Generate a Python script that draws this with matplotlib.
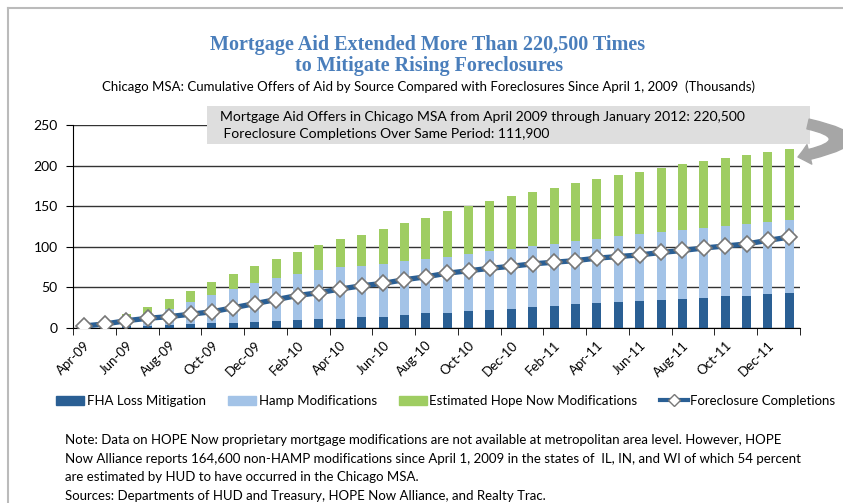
import numpy as np
import matplotlib
matplotlib.use('Agg')
from matplotlib import pyplot as plt
from matplotlib.patches import Patch, Rectangle, FancyArrowPatch
from matplotlib.lines import Line2D
from matplotlib.path import Path

# months Apr-09 .. Jan-12 (34 bars), values in thousands
months = ['Apr-09', 'May-09', 'Jun-09', 'Jul-09', 'Aug-09', 'Sep-09', 'Oct-09', 'Nov-09',
          'Dec-09', 'Jan-10', 'Feb-10', 'Mar-10', 'Apr-10', 'May-10', 'Jun-10', 'Jul-10',
          'Aug-10', 'Sep-10', 'Oct-10', 'Nov-10', 'Dec-10', 'Jan-11', 'Feb-11', 'Mar-11',
          'Apr-11', 'May-11', 'Jun-11', 'Jul-11', 'Aug-11', 'Sep-11', 'Oct-11', 'Nov-11',
          'Dec-11', 'Jan-12']
fha = [0, 0, 2, 3, 4, 5, 6, 6.5, 8, 9, 10, 11, 11.5, 13, 14, 16, 18, 19, 20.5, 22.5,
       23.5, 25.5, 27.5, 29, 31, 31.5, 33, 34, 36, 37, 39, 40, 41.5, 43]
hamp = [0, 0, 9, 14, 20, 27, 35, 41, 47, 52, 56.5, 60, 63.5, 63, 65, 66, 67, 69, 70.5, 72.5,
        74, 75, 76.5, 78, 79, 82, 83, 84.5, 85, 86.5, 87, 88, 89, 89.5]
hope = [0, 0, 6, 9, 12, 13, 16, 19, 21, 24, 27.5, 31, 34.5, 39, 43, 47.5, 51, 56, 59, 61.5,
        65, 67.5, 69, 71.5, 73, 74.5, 76.5, 78, 80.5, 82, 83, 85, 86.5, 88]
foreclosures = [2.5, 5, 9, 12, 14, 17, 20, 25, 30, 35, 40, 43.5, 48, 52, 55, 59.5, 63, 67.5,
                70.5, 73.5, 76, 79, 81, 83, 86, 88, 90, 93, 95.5, 98.5, 101, 103.5, 108, 111.9]

c_fha = '#2A5F94'
c_hamp = '#A3C3E7'
c_hope = '#9FCD62'
c_line = '#2A5F94'
sans = ['Lato', 'DejaVu Sans']

W, H = 843, 503
fig = plt.figure(figsize=(W / 100, H / 100), dpi=100)
plt.rcParams['font.family'] = sans

ax = fig.add_axes([73 / W, 1 - 328 / H, 727 / W, 203 / H])
x = np.arange(len(months))
fha = np.array(fha); hamp = np.array(hamp); hope = np.array(hope)
bw = 0.42
ax.bar(x, fha, bw, color=c_fha, zorder=2)
ax.bar(x, hamp, bw, bottom=fha, color=c_hamp, zorder=2)
ax.bar(x, hope, bw, bottom=fha + hamp, color=c_hope, zorder=2)
ax.plot(x, foreclosures, color=c_line, lw=3.8, marker='D', markersize=8,
        markerfacecolor='white', markeredgecolor='#777777', markeredgewidth=1.2, zorder=3)

ax.set_xlim(-0.5, len(months) - 0.5)
ax.set_ylim(0, 250)
ax.set_yticks(np.arange(0, 251, 50))
ax.yaxis.grid(True, color='#333333', lw=1, zorder=0)
ax.set_axisbelow(True)
for s in ['top', 'right']:
    ax.spines[s].set_visible(False)
ax.spines['left'].set_color('black')
ax.spines['bottom'].set_color('black')
ax.tick_params(axis='y', direction='out', length=5, labelsize=10, pad=6)
ax.set_xticks(x[::2])
ax.set_xticklabels(months[::2], rotation=45, ha='right', va='top',
                   rotation_mode='anchor', fontsize=9.5)
ax.set_xticks(np.arange(-0.5, len(months), 2), minor=True)
ax.tick_params(axis='x', which='major', length=0, pad=8)
ax.tick_params(axis='x', which='minor', direction='out', length=5)

# titles
fig.text(428 / W, 1 - 45 / H, 'Mortgage Aid Extended More Than 220,500 Times',
         family='Liberation Serif', fontweight='bold', fontsize=14.5,
         color='#4A7EBB', ha='center', va='center')
fig.text(429 / W, 1 - 66 / H, 'to Mitigate Rising Foreclosures',
         family='Liberation Serif', fontweight='bold', fontsize=14.5,
         color='#4A7EBB', ha='center', va='center')
fig.text(429 / W, 1 - 87 / H, 'Chicago MSA: Cumulative Offers of Aid by Source Compared with '
         'Foreclosures Since April 1, 2009  (Thousands)', fontsize=9.5,
         ha='center', va='center')

# callout box
fig.add_artist(Rectangle((207 / W, 1 - 144 / H), 603 / W, 38 / H,
                         transform=fig.transFigure, facecolor='#DEDEDE',
                         edgecolor='none', zorder=5))
fig.text(220 / W, 1 - 117 / H, 'Mortgage Aid Offers in Chicago MSA from April 2009 '
         'through January 2012: 220,500', fontsize=10, va='center', zorder=6)
fig.text(220 / W, 1 - 134 / H, ' Foreclosure Completions Over Same Period: 111,900',
         fontsize=10, va='center', zorder=6)

pts = [(808, 124), (878, 140), (798, 157)]
arc = Path([(px / W, 1 - py / H) for px, py in pts],
           [Path.MOVETO, Path.CURVE3, Path.CURVE3])
arrow = FancyArrowPatch(path=arc, transform=fig.transFigure,
                        arrowstyle='simple,head_length=0.7,head_width=1.2,tail_width=0.6',
                        mutation_scale=12, color='#A6A6A6', zorder=6)
fig.add_artist(arrow)

# legend
handles = [Patch(color=c_fha), Patch(color=c_hamp), Patch(color=c_hope),
           Line2D([], [], color=c_line, lw=3, marker='D', markersize=6,
                  markerfacecolor='white', markeredgecolor='#777777')]
labels = ['FHA Loss Mitigation', 'Hamp Modifications', 'Estimated Hope Now Modifications',
          'Foreclosure Completions']
fig.legend(handles, labels, loc='center', bbox_to_anchor=(446 / W, 1 - 401 / H), ncol=4,
           frameon=False, fontsize=9.5, handlelength=2.1, handleheight=0.7,
           handletextpad=0.2, columnspacing=1.7)

# notes
notes = ['Note: Data on HOPE Now proprietary mortgage modifications are not available at '
         'metropolitan area level. However, HOPE',
         'Now Alliance reports 164,600 non-HAMP modifications since April 1, 2009 in the '
         'states of  IL, IN, and WI of which 54 percent',
         'are estimated by HUD to have occurred in the Chicago MSA.',
         'Sources: Departments of HUD and Treasury, HOPE Now Alliance, and Realty Trac.']
for i, t in enumerate(notes):
    fig.text(65 / W, 1 - (440 + 18.7 * i) / H, t, fontsize=9.5, va='center')

# thin frame at top and left
fig.add_artist(Line2D([8 / W, 1], [1 - 8 / H, 1 - 8 / H], transform=fig.transFigure,
                      color='#BBBBBB', lw=1.5))
fig.add_artist(Line2D([8 / W, 8 / W], [0, 1 - 8 / H], transform=fig.transFigure,
                      color='#BBBBBB', lw=1.5))

fig.savefig('out.png', dpi=100)
